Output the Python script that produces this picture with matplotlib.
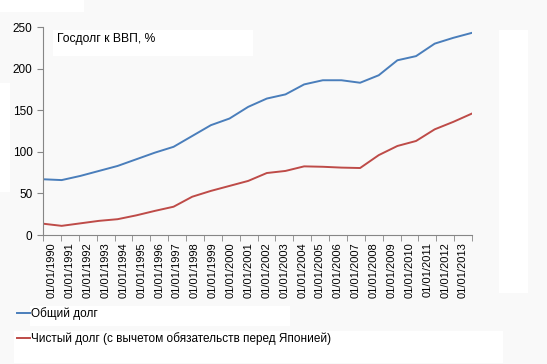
import matplotlib
matplotlib.use("Agg")
import matplotlib.pyplot as plt
import numpy as np
from matplotlib.patches import Rectangle

plt.rcParams['font.family'] = ['Liberation Sans', 'DejaVu Sans']

years = list(range(1990, 2014))
labels = [f"01/01/{y}" for y in years]

gross_debt = [67, 66, 71, 77, 83, 91, 99, 106, 119, 132, 140, 154, 164, 169,
              181, 186, 186, 183, 192, 210, 215, 230, 237, 243]
net_debt = [13.6, 11, 14, 17, 19, 23.6, 29, 34, 46, 53, 59, 65, 74.5, 77,
            82.5, 82, 81, 80.5, 96, 107, 113, 127, 136, 146]

W, H = 547, 364
bg = "#f9f9f9"
fig = plt.figure(figsize=(W / 100, H / 100), dpi=100, facecolor=bg)


def white_box(x0, y0, x1, y1):
    # pixel coords from the top-left corner
    fig.patches.append(Rectangle((x0 / W, 1 - y1 / H), (x1 - x0) / W, (y1 - y0) / H,
                                 transform=fig.transFigure, facecolor="white",
                                 edgecolor="none", zorder=0.5))


white_box(0, 0, 84, 12)
white_box(0, 83, 10, 192)
white_box(499, 30, 528, 293)
white_box(30, 306, 290, 326)
white_box(14, 331, 503, 363)

ax = fig.add_axes([43 / W, 1 - 235 / H, (472 - 43) / W, (235 - 27) / H])
ax.set_facecolor(bg)
ax.patch.set_alpha(0)

x = np.arange(len(years))
ax.plot(x, gross_debt, color="#4a7ebb", lw=1.4, label="Общий долг")
ax.plot(x, net_debt, color="#be4b48", lw=1.4,
        label="Чистый долг (с вычетом обязательств перед Японией)")

n = len(years)
ax.set_xlim(0, n - 1)
ax.set_ylim(0, 250)
ax.set_yticks([0, 50, 100, 150, 200, 250])

# category boundaries carry the tick marks, labels sit in between
step = (n - 1) / n
ax.set_xticks(np.arange(n + 1) * step, minor=True)
ax.set_xticks((np.arange(n) + 0.5) * step)
ax.set_xticklabels(labels, rotation=90, fontsize=8)
ax.tick_params(axis="x", which="major", length=0, pad=5)
ax.tick_params(axis="x", which="minor", length=4, color="#868686")
ax.tick_params(axis="y", labelsize=8.5, length=4, color="#868686")
for s in ["top", "right"]:
    ax.spines[s].set_visible(False)
for s in ["left", "bottom"]:
    ax.spines[s].set_color("#868686")

white_box(53, 30, 253, 56)
fig.text(57 / W, 1 - 39 / H, "Госдолг к ВВП, %", fontsize=8.7, va="center", ha="left")

fig.legend(loc="upper left", bbox_to_anchor=(17 / W, 1 - 307 / H), frameon=False,
           fontsize=8.5, handlelength=1.1, handletextpad=0.05, labelspacing=1.05,
           borderaxespad=0, borderpad=0)

plt.savefig("out.png", dpi=100, facecolor=bg)
